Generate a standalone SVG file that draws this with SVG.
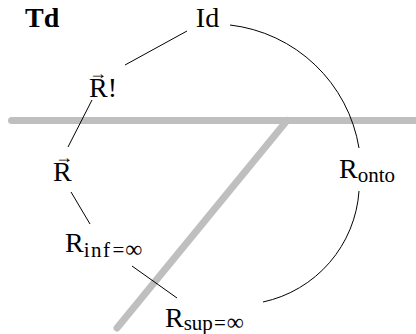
<svg xmlns="http://www.w3.org/2000/svg" width="416" height="334" viewBox="0 0 416 334">
<style>
text{font-family:'Liberation Serif', 'DejaVu Serif', 'Times New Roman', serif;font-size:28px;fill:#000}
.sub{font-size:21px}
.inf{font-size:24px}
.acc{font-size:18px}
.bar{stroke:#bfbfbf;stroke-width:7;stroke-linecap:round;fill:none}
.edge{stroke:#000;stroke-width:1;fill:none}
</style>
<rect width="416" height="334" fill="#fff"/>
<g id="bars">
<line class="bar" x1="11.5" y1="120.5" x2="424" y2="120.5"/>
<line class="bar" x1="287" y1="120.5" x2="117" y2="328"/>
</g>
<g id="connectors">
<line class="edge" x1="187" y1="31" x2="125" y2="65"/>
<line class="edge" x1="92" y1="100" x2="68" y2="147"/>
<line class="edge" x1="71" y1="192" x2="90" y2="224"/>
<line class="edge" x1="132" y1="266" x2="177" y2="298"/>
<path class="edge" d="M230,25 A148,148 0 0 1 359,148"/>
<path class="edge" d="M263,302 A122,122 0 0 0 359,191"/>
</g>
<g id="title"><text x="25" y="27" font-weight="bold">Td</text></g>
<g id="Id"><text x="207.5" y="27" text-anchor="middle">Id</text></g>
<g id="Rvec-bang"><text x="89" y="97">R!</text><text class="acc" x="89" y="79">→</text></g>
<g id="Rvec"><text x="53" y="181">R</text><text class="acc" x="55" y="163">→</text></g>
<g id="Ronto"><text x="339" y="178">R<tspan class="sub" dy="4">onto</tspan></text></g>
<g id="Rinf"><text x="65" y="252">R<tspan class="sub" dy="4.5" letter-spacing="1.5">inf</tspan><tspan class="sub" dx="1">=</tspan><tspan class="inf" dx="1">∞</tspan></text></g>
<g id="Rsup"><text x="165" y="327">R<tspan class="sub" dy="3">sup</tspan><tspan class="sub" dx="1">=</tspan><tspan class="inf" dx="1">∞</tspan></text></g>
</svg>
